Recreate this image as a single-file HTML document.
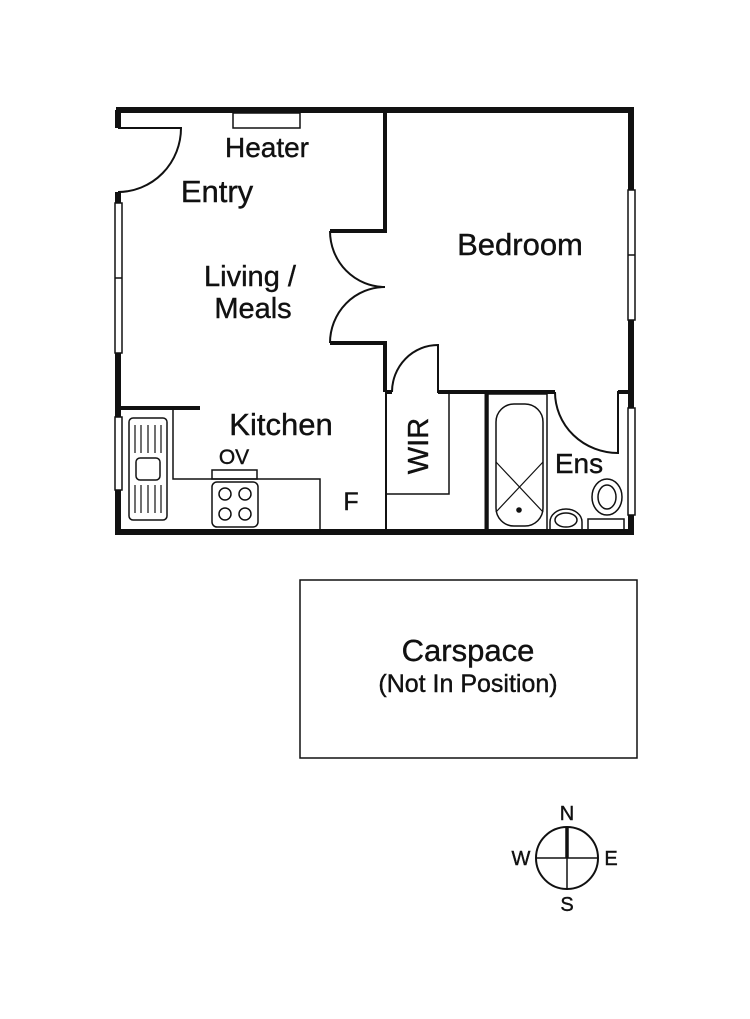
<!DOCTYPE html>
<html><head><meta charset="utf-8"><style>
html,body{margin:0;padding:0;background:#fff;}
svg{display:block;}
text{font-family:"Liberation Sans",Arial,sans-serif;fill:#111;stroke:#111;stroke-width:0.4;}
</style></head><body>
<svg width="750" height="1019" viewBox="0 0 750 1019" xmlns="http://www.w3.org/2000/svg">
<g fill="none" stroke="#111" stroke-width="2">
<path d="M116 110 H631 V532 H118 V192" stroke-width="6"/>
<path d="M118 110 V128" stroke-width="6"/>
<path d="M118 128 H181 A63 64 0 0 1 118 192"/>
<rect x="115" y="203" width="7" height="150" fill="#fff" stroke-width="1.5"/>
<line x1="115" y1="278" x2="122" y2="278" stroke-width="1.5"/>
<rect x="115" y="417" width="7" height="73" fill="#fff" stroke-width="1.5"/>
<rect x="628" y="190" width="7" height="130" fill="#fff" stroke-width="1.5"/>
<line x1="628" y1="255" x2="635" y2="255" stroke-width="1.5"/>
<rect x="628" y="408" width="7" height="107" fill="#fff" stroke-width="1.5"/>
<rect x="233" y="113" width="67" height="15" stroke-width="1.5"/>
<path d="M385 113 V231 H330" stroke-width="4"/>
<path d="M330 343 H385 V392" stroke-width="4"/>
<path d="M330 231 A55 56 0 0 0 385 287 A55 56 0 0 0 330 343"/>
<line x1="386" y1="392" x2="386" y2="532" stroke-width="2"/>
<path d="M118 408 H200" stroke-width="4"/>
<path d="M173 408 V479 H320 V532" stroke-width="1.5"/>
<rect x="129" y="418" width="38" height="102" rx="4" stroke-width="1.5"/>
<rect x="136" y="458" width="24" height="22" rx="4" stroke-width="1.5"/>
<g stroke-width="1.2">
<line x1="135" y1="425" x2="135" y2="453"/><line x1="141" y1="425" x2="141" y2="453"/><line x1="148" y1="425" x2="148" y2="453"/><line x1="155" y1="425" x2="155" y2="453"/><line x1="161" y1="425" x2="161" y2="453"/>
<line x1="135" y1="485" x2="135" y2="513"/><line x1="141" y1="485" x2="141" y2="513"/><line x1="148" y1="485" x2="148" y2="513"/><line x1="155" y1="485" x2="155" y2="513"/><line x1="161" y1="485" x2="161" y2="513"/>
</g>
<rect x="212" y="470" width="45" height="9" stroke-width="1.5"/>
<rect x="212" y="482" width="46" height="45" rx="5" stroke-width="1.5"/>
<circle cx="225" cy="494" r="6" stroke-width="1.5"/><circle cx="245" cy="494" r="6" stroke-width="1.5"/>
<circle cx="225" cy="514" r="6" stroke-width="1.5"/><circle cx="245" cy="514" r="6" stroke-width="1.5"/>
<path d="M385 392 H392" stroke-width="4"/>
<path d="M392 392 A46 47 0 0 1 438 345 V392 H555" stroke-width="2"/>
<path d="M438 392 H555" stroke-width="4"/>
<path d="M555 392 A63 61 0 0 0 618 453 V392 H631" stroke-width="2"/>
<path d="M618 392 H631" stroke-width="4"/>
<path d="M386 494 H449 V392" stroke-width="1.5"/>
<line x1="486" y1="392" x2="486" y2="532" stroke-width="3"/>
<rect x="488" y="394" width="59" height="137" stroke-width="1.5"/>
<rect x="496" y="404" width="47" height="122" rx="18" stroke-width="1.5"/>
<path d="M496 462 L543 512 M543 462 L496 512" stroke-width="1.2"/>
<circle cx="519" cy="510" r="1.8" fill="#111"/>
<path d="M550 530 V522 A16 13 0 0 1 582 522 V530" stroke-width="1.5"/>
<ellipse cx="566" cy="520" rx="11" ry="7" stroke-width="1.5"/>
<ellipse cx="607" cy="497" rx="15" ry="18" stroke-width="1.5"/>
<ellipse cx="607" cy="497" rx="9" ry="12" stroke-width="1.5"/>
<rect x="588" y="519" width="36" height="11" stroke-width="1.5"/>
<rect x="300" y="580" width="337" height="178" stroke-width="1.5"/>
<circle cx="567" cy="858" r="31" stroke-width="2"/>
<line x1="536" y1="858" x2="598" y2="858" stroke-width="1.5"/>
<line x1="567" y1="858" x2="567" y2="889" stroke-width="1.5"/>
<line x1="567" y1="827" x2="567" y2="858" stroke-width="3.5"/>
</g>
<text x="267" y="157" font-size="28" text-anchor="middle">Heater</text>
<text x="217" y="202" font-size="31" text-anchor="middle">Entry</text>
<text x="250" y="286" font-size="29" text-anchor="middle">Living /</text>
<text x="253" y="318" font-size="29" text-anchor="middle">Meals</text>
<text x="520" y="255" font-size="31" text-anchor="middle">Bedroom</text>
<text x="281" y="435" font-size="31" text-anchor="middle">Kitchen</text>
<text x="234" y="464" font-size="21" text-anchor="middle">OV</text>
<text x="351" y="510" font-size="25" text-anchor="middle">F</text>
<text transform="translate(428,446) rotate(-90)" font-size="29" text-anchor="middle">WIR</text>
<text x="579" y="473" font-size="28" text-anchor="middle">Ens</text>
<text x="468" y="661" font-size="31" text-anchor="middle">Carspace</text>
<text x="468" y="692" font-size="25" text-anchor="middle">(Not In Position)</text>
<text x="567" y="820" font-size="20" text-anchor="middle">N</text>
<text x="567" y="911" font-size="20" text-anchor="middle">S</text>
<text x="521" y="865" font-size="20" text-anchor="middle">W</text>
<text x="611" y="865" font-size="20" text-anchor="middle">E</text>
</svg>
</body></html>
